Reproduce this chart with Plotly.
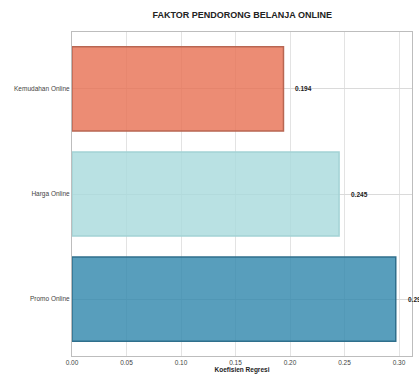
import plotly.graph_objects as go

categories = ["Promo Online", "Harga Online", "Kemudahan Online"]
coefficients = [0.297, 0.245, 0.194]
value_labels = ["0.297", "0.245", "0.194"]
x_ticks = [0.00, 0.05, 0.10, 0.15, 0.20, 0.25, 0.30]

fill_colors = ["rgba(46,134,171,0.8)", "rgba(168,218,220,0.8)", "rgba(231,111,81,0.8)"]
edge_colors = ["#2F6F8C", "#A3D2D5", "#B86652"]

fig = go.Figure()
fig.add_trace(go.Bar(
    y=categories, x=coefficients, orientation="h",
    width=0.8,
    marker=dict(color=fill_colors, line=dict(color=edge_colors, width=1.5)),
    showlegend=False, hoverinfo="skip",
))

for c, v, t in zip(categories, coefficients, value_labels):
    fig.add_annotation(x=v + 0.009, y=c, text="<b>" + t + "</b>", showarrow=False,
                       xanchor="left", yanchor="middle",
                       font=dict(size=6.5, color="#222", family="Liberation Sans"))

fig.update_layout(
    width=419, height=376,
    margin=dict(l=72, r=6, t=32, b=15),
    paper_bgcolor="white", plot_bgcolor="white",
    font=dict(family="Liberation Sans", size=6.5, color="#444"),
    title=dict(text="<b>FAKTOR PENDORONG BELANJA ONLINE</b>", x=0.578, xanchor="center",
               y=0.96, yanchor="middle", font=dict(size=9, color="#222")),
    xaxis=dict(range=[0, 0.3119], tickvals=x_ticks, tickformat=".2f",
               showgrid=True, gridcolor="#E3E3E3", gridwidth=0.8,
               showline=True, linecolor="#BDBDBD", linewidth=1, mirror=True,
               zeroline=False, ticks="", ticklen=0,
               title=dict(text="<b>Koefisien Regresi</b>", standoff=0, font=dict(size=6.5, color="#222"))),
    yaxis=dict(range=[-0.54, 2.54], showgrid=True, gridcolor="#DADADA", gridwidth=0.8,
               showline=True, linecolor="#BDBDBD", linewidth=1, mirror=True,
               zeroline=False, ticks="", ticklen=0),
)

fig.write_html("out.html")
